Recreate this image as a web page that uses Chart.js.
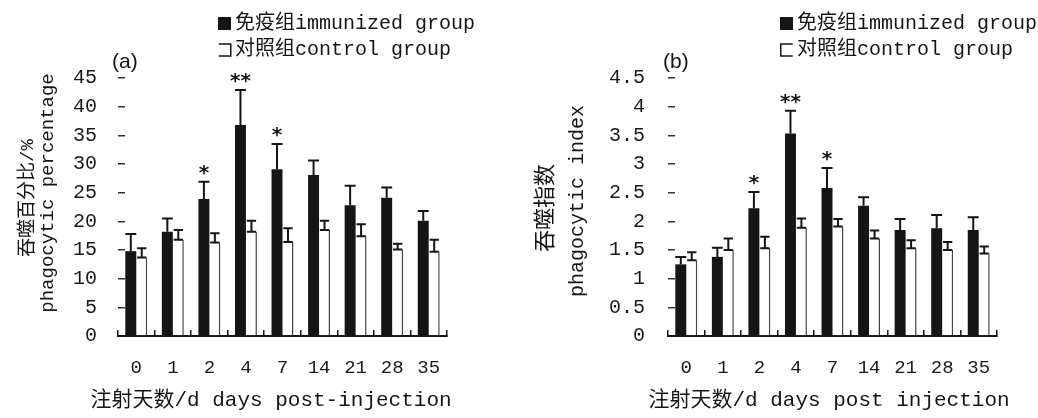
<!DOCTYPE html>
<html><head><meta charset="utf-8">
<script src="https://cdn.jsdelivr.net/npm/chart.js@4.4.0/dist/chart.umd.min.js"></script>
<style>
html,body{margin:0;padding:0;background:#fff;}
#wrap{position:relative;width:1038px;height:418px;overflow:hidden;background:#fff;}
canvas{position:absolute;top:0;}
</style></head><body>
<div id="wrap">
<canvas id="ca" width="519" height="418" style="left:0"></canvas>
<canvas id="cb" width="519" height="418" style="left:519px"></canvas>
</div>
<script>
// ---------- data ----------
const days = ['0','1','2','4','7','14','21','28','35'];
const seriesNames = ['免疫组immunized group', '对照组control group'];

const pctImmunized    = [14.8, 18.2, 23.9, 36.8, 29.1, 28.1, 22.8, 24.1, 20.1];
const pctImmunizedErr = [3.0, 2.3, 3.0, 6.1, 4.4, 2.5, 3.4, 1.8, 1.7];
const pctControl      = [13.7, 16.8, 16.3, 18.2, 16.4, 18.5, 17.4, 15.1, 14.7];
const pctControlErr   = [1.6, 1.7, 1.6, 1.9, 2.4, 1.6, 2.1, 1.0, 2.1];

const idxImmunized    = [1.25, 1.38, 2.23, 3.53, 2.58, 2.27, 1.85, 1.88, 1.85];
const idxImmunizedErr = [0.13, 0.16, 0.28, 0.40, 0.35, 0.15, 0.19, 0.23, 0.22];
const idxControl      = [1.32, 1.50, 1.53, 1.89, 1.91, 1.70, 1.53, 1.50, 1.44];
const idxControlErr   = [0.14, 0.20, 0.20, 0.16, 0.13, 0.14, 0.14, 0.14, 0.12];

const signif = ['', '', '*', '**', '*', '', '', '', ''];

const pctTicks = [0, 5, 10, 15, 20, 25, 30, 35, 40, 45];
const idxTicks = [0, 0.5, 1, 1.5, 2, 2.5, 3, 3.5, 4, 4.5];
const pctTickLabels = ['0','5','10','15','20','25','30','35','40','45'];
const idxTickLabels = ['0','0.5','1','1.5','2','2.5','3','3.5','4','4.5'];

const pctYTitle = ['吞噬百分比/%', 'phagocytic percentage'];
const idxYTitle = ['吞噬指数', 'phagocytic index'];
const pctXTitle = '注射天数/d days post-injection';
const idxXTitle = '注射天数/d days post injection';

// ---------- plugins ----------
const INK = '#151515';
const MONO = "'Liberation Mono','Noto Sans CJK SC',monospace";

const errorBars = {
  id: 'errorBars',
  afterDatasetsDraw(chart) {
    const ctx = chart.ctx, y = chart.scales.y;
    chart.data.datasets.forEach((ds, di) => {
      if (!ds.errors) return;
      const meta = chart.getDatasetMeta(di);
      meta.data.forEach((bar, i) => {
        const v = ds.data[i], e = ds.errors[i];
        const yTop = y.getPixelForValue(v + e), yBase = y.getPixelForValue(v);
        const half = bar.width / 2 * ds.capScale;
        ctx.save();
        ctx.strokeStyle = INK; ctx.lineWidth = 2;
        ctx.beginPath();
        ctx.moveTo(bar.x, yBase); ctx.lineTo(bar.x, yTop);
        ctx.moveTo(bar.x - half, yTop); ctx.lineTo(bar.x + half, yTop);
        if (ds.lowerCap) { ctx.moveTo(bar.x - half, yBase); ctx.lineTo(bar.x + half, yBase); }
        ctx.stroke();
        ctx.restore();
      });
    });
  }
};

const signifMarks = {
  id: 'signifMarks',
  afterDatasetsDraw(chart) {
    const ctx = chart.ctx, y = chart.scales.y;
    const ds = chart.data.datasets[0];
    const meta = chart.getDatasetMeta(0);
    ctx.save();
    ctx.fillStyle = INK; ctx.font = "bold 20px 'DejaVu Sans', sans-serif";
    ctx.textAlign = 'center'; ctx.textBaseline = 'alphabetic';
    meta.data.forEach((bar, i) => {
      if (!signif[i]) return;
      const yTop = y.getPixelForValue(ds.data[i] + ds.errors[i]);
      ctx.fillText(signif[i], bar.x, yTop - 3);
    });
    ctx.restore();
  }
};

const decor = {
  id: 'decor',
  afterDraw(chart, args, o) {
    const ctx = chart.ctx;
    ctx.save();
    ctx.fillStyle = INK; ctx.strokeStyle = INK;
    ctx.textAlign = 'left'; ctx.textBaseline = 'middle';
    // panel label
    ctx.font = "21px 'Liberation Sans', sans-serif";
    ctx.fillText(o.label, chart.chartArea.left + o.labelDx, 62);
    // legend
    ctx.font = "20px " + MONO;
    ctx.fillRect(o.lx, 17, 13, 13);
    ctx.fillText(chart.data.datasets[0].label, o.lx + 17, 24);
    ctx.lineWidth = 1.5;
    const bx = o.lx + 0.75, by = 44, s = 12;
    ctx.beginPath();
    if (o.open === 'left') {
      ctx.moveTo(bx, by); ctx.lineTo(bx + s, by); ctx.lineTo(bx + s, by + s); ctx.lineTo(bx, by + s);
    } else {
      ctx.moveTo(bx + s, by); ctx.lineTo(bx, by); ctx.lineTo(bx, by + s); ctx.lineTo(bx + s, by + s);
    }
    ctx.stroke();
    ctx.fillText(chart.data.datasets[1].label, o.lx + 17, 50);
    // x axis title
    ctx.textAlign = 'center';
    ctx.font = "21px " + MONO;
    ctx.fillText(o.xTitle, o.xTitlePos[0], o.xTitlePos[1]);
    // y axis title (two rotated lines)
    o.yTitle.forEach((t, k) => {
      ctx.save();
      ctx.translate(o.yTitlePos[k][0], o.yTitlePos[k][1]);
      ctx.rotate(-Math.PI / 2);
      ctx.font = o.yTitleFont[k] + "px " + MONO;
      ctx.fillText(t, 0, 0);
      ctx.restore();
    });
    ctx.restore();
  }
};

// ---------- chart factory ----------
function makeChart(id, c) {
  return new Chart(document.getElementById(id), {
    type: 'bar',
    data: {
      labels: days,
      datasets: [
        { label: seriesNames[0], data: c.imm, errors: c.immErr, capScale: 1, lowerCap: false,
          backgroundColor: INK, borderWidth: 0, barPercentage: 1, categoryPercentage: 0.6 },
        { label: seriesNames[1], data: c.ctl, errors: c.ctlErr, capScale: 0.85, lowerCap: true,
          backgroundColor: '#ffffff', borderColor: '#444',
          borderWidth: { top: 0, right: 1.5, bottom: 0, left: 0 }, borderSkipped: false,
          barPercentage: 1, categoryPercentage: 0.6 }
      ]
    },
    options: {
      responsive: false, animation: false, devicePixelRatio: 1,
      layout: { padding: { left: 0, top: 78, right: c.padRight, bottom: 0 } },
      plugins: {
        legend: { display: false }, tooltip: { enabled: false },
        decor: { label: c.panel, labelDx: c.labelDx, lx: c.legendX, open: c.open,
                 xTitle: c.xTitle, xTitlePos: c.xTitlePos,
                 yTitle: c.yTitle, yTitlePos: c.yTitlePos, yTitleFont: c.yTitleFont }
      },
      scales: {
        x: {
          afterFit: s => { s.height = 82; },
          border: { display: true, color: INK, width: 2 },
          grid: { drawOnChartArea: false, drawTicks: true, tickLength: -6, color: INK, lineWidth: 1.5, offset: true },
          ticks: { padding: 27, color: '#1a1a1a', maxRotation: 0, autoSkip: false,
                   font: { family: MONO, size: 19 } },
          title: { display: false }
        },
        y: {
          min: 0, max: c.ticks[c.ticks.length - 1],
          afterBuildTicks: s => { s.ticks = c.ticks.map(v => ({ value: v })); },
          afterFit: s => { s.width = c.yWidth; },
          border: { display: false },
          grid: { drawOnChartArea: false, drawTicks: true, tickLength: -7, color: '#333', lineWidth: 1.5 },
          ticks: { padding: c.yPad, color: '#1a1a1a', font: { family: MONO, size: 20 },
                   callback: (v, i) => c.tickLabels[i] },
          title: { display: false }
        }
      }
    },
    plugins: [errorBars, signifMarks, decor]
  });
}

makeChart('ca', {
  imm: pctImmunized, immErr: pctImmunizedErr, ctl: pctControl, ctlErr: pctControlErr,
  ticks: pctTicks, tickLabels: pctTickLabels,
  xTitle: pctXTitle, xTitlePos: [271, 400],
  yTitle: pctYTitle, yTitlePos: [[28, 198], [48, 193]], yTitleFont: [19, 19],
  yWidth: 118, yPad: 28, padRight: 72,
  panel: '(a)', labelDx: -6, legendX: 218, open: 'left'
});

makeChart('cb', {
  imm: idxImmunized, immErr: idxImmunizedErr, ctl: idxControl, ctlErr: idxControlErr,
  ticks: idxTicks, tickLabels: idxTickLabels,
  xTitle: idxXTitle, xTitlePos: [310, 400],
  yTitle: idxYTitle, yTitlePos: [[27, 208], [59, 201]], yTitleFont: [22, 20],
  yWidth: 149, yPad: 30, padRight: 41,
  panel: '(b)', labelDx: -5, legendX: 261, open: 'right'
});
</script>
</body></html>
